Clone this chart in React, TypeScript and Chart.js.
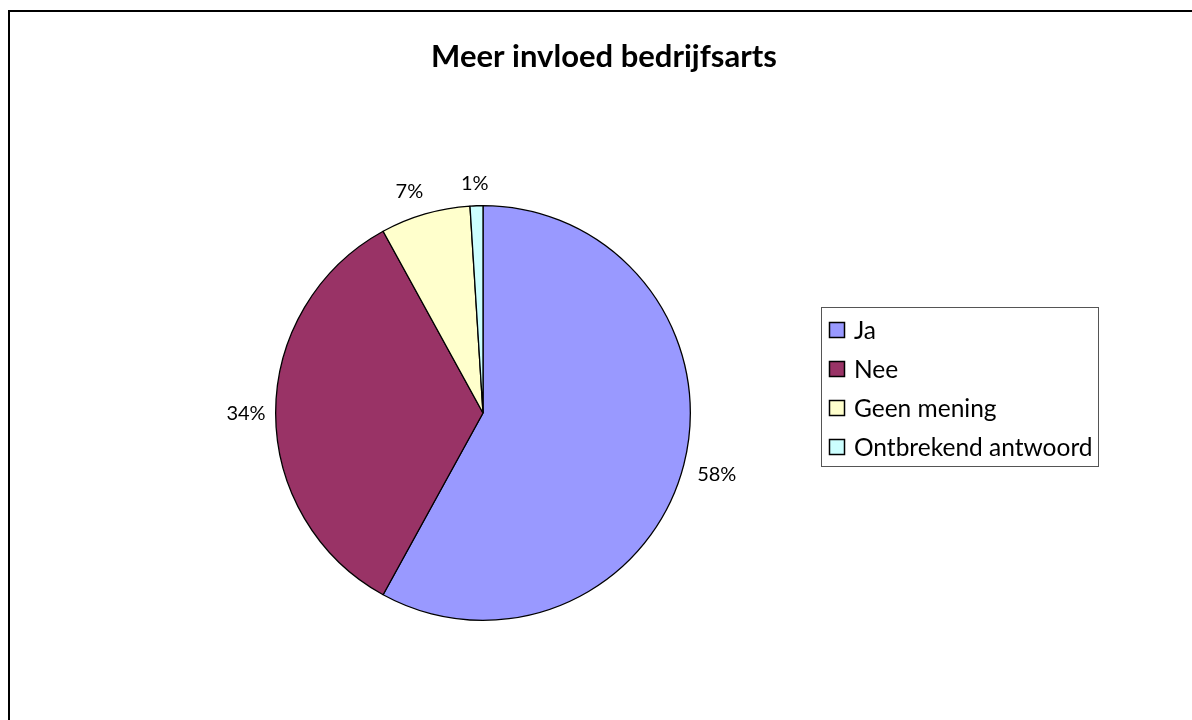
import React, { useEffect, useRef } from "react";
import { Chart, registerables } from "chart.js";

Chart.register(...registerables);

const title = "Meer invloed bedrijfsarts";
const categories = ["Ja", "Nee", "Geen mening", "Ontbrekend antwoord"];
const percentages = [58, 34, 7, 1];
const sliceColors = ["#9999FF", "#993366", "#FFFFCC", "#CCFFFF"];

const FONT = "Lato, 'Liberation Sans', sans-serif";

// Outer frame, title, outside percentage labels and the boxed legend.
const decorations = {
  id: "decorations",
  beforeDraw(chart: any) {
    const { ctx } = chart;
    ctx.save();
    ctx.fillStyle = "#ffffff";
    ctx.fillRect(0, 0, chart.width, chart.height);
    ctx.strokeStyle = "#000000";
    ctx.lineWidth = 2;
    ctx.strokeRect(9, 11, chart.width + 20, chart.height + 20);
    ctx.restore();
  },
  afterDraw(chart: any) {
    const { ctx } = chart;
    ctx.save();

    // Title
    ctx.fillStyle = "#000000";
    ctx.font = `bold 31px ${FONT}`;
    ctx.textAlign = "center";
    ctx.textBaseline = "middle";
    ctx.fillText(title, 604, 57);

    // Percentage labels: anchored just outside the rim, box pushed away from the pie
    const meta = chart.getDatasetMeta(0);
    const labelSize = 20;
    ctx.font = `${labelSize}px ${FONT}`;
    ctx.textBaseline = "alphabetic";
    const capH = labelSize * 0.72;
    meta.data.forEach((arc: any, i: number) => {
      const { x, y, startAngle, endAngle, outerRadius } = arc.getProps(
        ["x", "y", "startAngle", "endAngle", "outerRadius"],
        true
      );
      const mid = (startAngle + endAngle) / 2;
      const dx = Math.cos(mid);
      const dy = Math.sin(mid);
      const text = `${percentages[i]}%`;
      const w = ctx.measureText(text).width;
      const fx = Math.sign(dx) * Math.min(1, Math.abs(dx) * 3);
      const fy = Math.sign(dy) * Math.min(1, Math.abs(dy) * 3);
      const gap = 10 + 5 * Math.abs(fy);
      const ax = x + dx * (outerRadius + gap);
      const ay = y + dy * (outerRadius + gap);
      const cx = ax + fx * (w / 2);
      const cy = ay + fy * (capH / 2 + 1);
      ctx.textAlign = "center";
      ctx.fillText(text, cx, cy + capH / 2);
    });

    // Legend
    const bx = 821.5;
    const by = 307.5;
    const bw = 277;
    const bh = 159;
    ctx.strokeStyle = "#555555";
    ctx.lineWidth = 1;
    ctx.strokeRect(bx, by, bw, bh);
    ctx.font = `24.5px ${FONT}`;
    ctx.textAlign = "left";
    ctx.textBaseline = "middle";
    categories.forEach((label, i) => {
      const cy = 330 + i * 39;
      ctx.fillStyle = sliceColors[i];
      ctx.fillRect(829, cy - 8, 16, 16);
      ctx.strokeStyle = "#000000";
      ctx.lineWidth = 1.5;
      ctx.strokeRect(829.5, cy - 7.5, 15, 15);
      ctx.fillStyle = "#000000";
      ctx.fillText(label, 854, cy + 1);
    });

    ctx.restore();
  },
};

export default function App() {
  const canvasRef = useRef<HTMLCanvasElement | null>(null);

  useEffect(() => {
    if (!canvasRef.current) return;
    const chart = new Chart(canvasRef.current, {
      type: "pie",
      data: {
        labels: categories,
        datasets: [
          {
            data: percentages,
            backgroundColor: sliceColors,
            borderColor: "#000000",
            borderWidth: 1.3,
          },
        ],
      },
      options: {
        animation: false,
        responsive: false,
        layout: { padding: { left: 275, right: 501, top: 205, bottom: 99 } },
        plugins: {
          legend: { display: false },
          title: { display: false },
          tooltip: { enabled: false },
        },
      },
      plugins: [decorations],
    });
    return () => chart.destroy();
  }, []);

  return (
    <div style={{ position: "fixed", left: 0, top: 0, width: 1192, height: 720, background: "#fff" }}>
      <canvas ref={canvasRef} width={1192} height={720} style={{ display: "block" }} />
    </div>
  );
}
